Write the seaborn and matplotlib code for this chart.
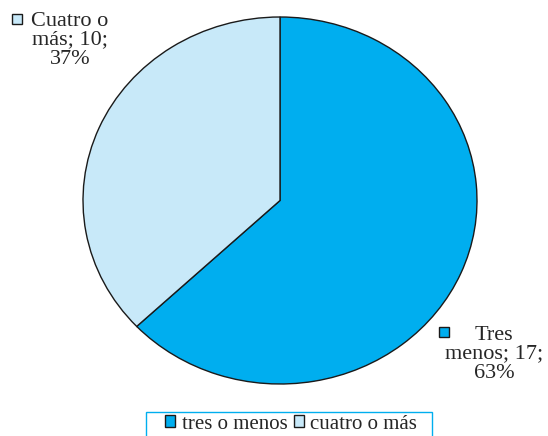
import matplotlib
matplotlib.use("Agg")
import matplotlib.pyplot as plt
from matplotlib.patches import Rectangle
import seaborn as sns

categories = ["tres o menos", "cuatro o más"]
counts = [17, 10]
percents = [63, 37]
slice_labels = ["Tres\nmenos; 17;\n63%", "Cuatro o\nmás; 10;\n37%"]

sns.set_style("white")
plt.rcParams["font.family"] = ["Liberation Serif", "DejaVu Serif"]
colors = ["#00AEEF", "#C8E9F9"]
edge = "#1a1a1a"

W, H = 548, 436
fig = plt.figure(figsize=(W / 100, H / 100), dpi=100)
ax = fig.add_axes([83 / W, (H - 384) / H, 394 / W, 367 / H])

wedges, _ = ax.pie(counts, colors=colors, startangle=90, counterclock=False,
                   wedgeprops=dict(edgecolor=edge, linewidth=1.0))
ax.set_aspect("auto")
ax.set_xlim(-1, 1)
ax.set_ylim(-1, 1)


def px_box(x0, y0, w, h, **kw):
    # rectangle given in pixels from the top-left corner
    r = Rectangle((x0 / W, (H - y0 - h) / H), w / W, h / H,
                  transform=fig.transFigure, **kw)
    fig.add_artist(r)
    return r


# slice labels, each with a colour key square in front
label_pos = [(494, 354), (70, 40)]
square_pos = [(439, 327), (12, 14)]
for text, (x, y), (sx, sy), c in zip(slice_labels, label_pos, square_pos, colors):
    fig.text(x / W, (H - y) / H, text, ha="center", va="center",
             fontsize=16, linespacing=1.0)
    px_box(sx, sy, 10, 10, facecolor=c, edgecolor=edge, linewidth=1.0)

leg = fig.legend(wedges, categories, loc="center", bbox_to_anchor=(291 / W, (H - 424) / H),
                 ncol=2, frameon=False, fontsize=15,
                 handlelength=0.5, handleheight=0.5, handletextpad=0.3,
                 columnspacing=0.3, borderpad=0, borderaxespad=0)

# legend box, running off the bottom edge
px_box(146, 412, 286, 40, facecolor="none", edgecolor="#00AEEF", linewidth=1.0)

fig.savefig("out.png", dpi=100)
